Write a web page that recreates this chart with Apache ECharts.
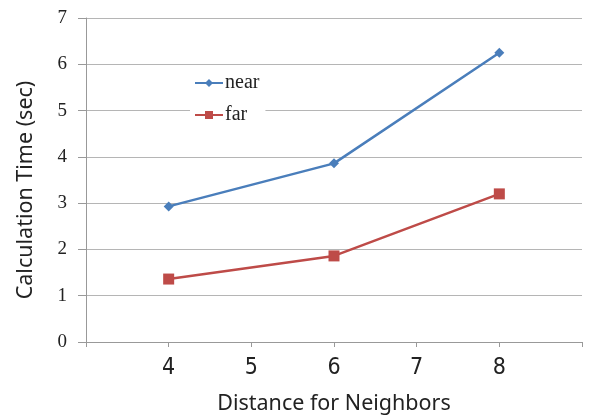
<!DOCTYPE html>
<html><head><meta charset="utf-8">
<script src="https://cdn.jsdelivr.net/npm/echarts@6/dist/echarts.min.js"></script>
<style>html,body{margin:0;padding:0;background:#fff}#c{width:594px;height:416px}</style>
</head><body><div id="c"></div>
<script>
const xValues = [4, 6, 8];
const nearValues = [2.93, 3.86, 6.25];
const farValues = [1.36, 1.86, 3.2];
const xTickLabels = ['4', '5', '6', '7', '8'];
const yTickLabels = ['0', '1', '2', '3', '4', '5', '6', '7'];

const chart = echarts.init(document.getElementById('c'), null, {renderer: 'canvas'});
chart.setOption({
  animation: false,
  backgroundColor: '#fff',
  grid: {left: 86, right: 12, top: 18, bottom: 74, containLabel: false, outerBoundsMode: 'none'},
  legend: {
    orient: 'vertical', left: 190, top: 71,
    itemWidth: 28, itemHeight: 10, itemGap: 12,
    backgroundColor: '#fff', padding: [2, 6, 2, 4],
    textStyle: {fontFamily: "'Liberation Serif', serif", fontSize: 20, color: '#222', padding: [0, 0, 0, -3]},
    data: ['near', 'far']
  },
  xAxis: {
    type: 'value', min: 3, max: 9, interval: 1,
    name: 'Distance for Neighbors', nameLocation: 'middle', nameGap: 51,
    nameTextStyle: {fontFamily: "'Noto Sans', sans-serif", fontSize: 21.5, color: '#222'},
    axisLine: {show: true, lineStyle: {color: '#999', width: 1}},
    axisTick: {show: true, length: 5, lineStyle: {color: '#999'}},
    splitLine: {show: false},
    axisLabel: {
      margin: 15, fontFamily: "'Liberation Sans Narrow', 'DejaVu Sans Condensed', sans-serif", fontSize: 23, color: '#222',
      formatter: v => xTickLabels.includes(String(v)) ? String(v) : ''
    }
  },
  yAxis: {
    type: 'value', min: 0, max: 7, interval: 1,
    name: 'Calculation Time (sec)', nameLocation: 'middle', nameGap: 49,
    nameTextStyle: {fontFamily: "'Noto Sans', sans-serif", fontSize: 21.5, color: '#222', padding: [0, 20, 0, 0]},
    axisLine: {show: true, lineStyle: {color: '#999', width: 1}},
    axisTick: {show: true, length: 8, lineStyle: {color: '#999'}},
    splitLine: {show: true, lineStyle: {color: '#b5b5b5', width: 1}},
    axisLabel: {
      margin: 19, fontFamily: "'Liberation Serif', serif", fontSize: 19, color: '#222',
      formatter: v => yTickLabels[v] ?? ''
    }
  },
  series: [
    {
      name: 'near', type: 'line',
      data: xValues.map((x, i) => [x, nearValues[i]]),
      symbol: 'diamond', symbolSize: 10,
      lineStyle: {color: '#4a7ebb', width: 2.5},
      itemStyle: {color: '#4a7ebb'}
    },
    {
      name: 'far', type: 'line',
      data: xValues.map((x, i) => [x, farValues[i]]),
      symbol: 'rect', symbolSize: 11,
      lineStyle: {color: '#be4b48', width: 2.5},
      itemStyle: {color: '#be4b48'}
    }
  ]
});
</script></body></html>
